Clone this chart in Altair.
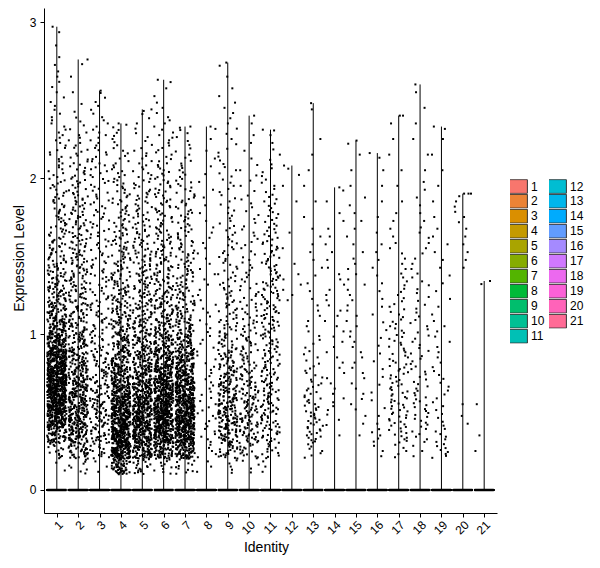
import math
import altair as alt
import pandas as pd

alt.data_transformers.disable_max_rows()

# ---------------- data ----------------
idents = [str(i) for i in range(1, 22)]

# top of each violin (= max expression in the cluster)
violin_max = [2.97, 2.76, 2.56, 2.35, 2.44, 2.63, 2.33, 2.33, 2.74, 2.40, 2.31,
              2.08, 2.48, 1.94, 2.24, 2.16, 2.40, 2.60, 2.33, 1.90, 1.34]

# cells with zero expression per cluster (drawn as the band at 0)
zero_counts = [80, 80, 80, 80, 80, 80, 80, 80, 80, 80, 80,
               80, 80, 80, 80, 80, 80, 80, 80, 80, 80]

# counts of non-zero cells per 0.1-wide expression bin (bin 0 = [0, 0.1))
bin_width = 0.1
counts_01 = [0, 2, 14, 55, 120, 150, 160, 150, 125, 90, 60, 42, 32, 26, 21, 18, 15, 13, 11, 10, 8, 7, 6, 5, 4, 3, 3, 2, 1, 1]
counts_02 = [0, 8, 36, 62, 70, 70, 62, 52, 42, 34, 29, 25, 22, 20, 19, 18, 16, 15, 14, 12, 10, 8, 6, 4, 2, 1, 1, 1]
counts_03 = [0, 3, 15, 24, 27, 27, 24, 20, 17, 14, 13, 12, 11, 10, 10, 9, 9, 9, 8, 8, 8, 7, 6, 5, 4, 2]
counts_04 = [0, 55, 130, 150, 135, 115, 90, 68, 52, 40, 33, 28, 24, 21, 18, 16, 14, 12, 11, 10, 8, 6, 5, 3]
counts_05 = [0, 18, 72, 100, 108, 98, 80, 62, 48, 38, 31, 26, 23, 20, 18, 16, 14, 12, 11, 10, 8, 6, 4, 3, 2]
counts_06 = [0, 10, 60, 115, 130, 125, 110, 90, 70, 52, 38, 30, 25, 22, 19, 17, 15, 13, 12, 11, 9, 7, 6, 5, 3, 2, 1]
counts_07 = [0, 12, 70, 120, 130, 120, 105, 85, 62, 44, 32, 24, 20, 17, 15, 13, 12, 11, 10, 9, 7, 5, 4, 2]
counts_08 = [0, 3, 5, 6, 6, 5, 5, 5, 4, 4, 4, 4, 3, 3, 3, 3, 3, 2, 2, 2, 2, 2, 1, 1]
counts_09 = [0, 5, 24, 40, 46, 44, 38, 30, 23, 18, 15, 12, 10, 9, 8, 8, 7, 6, 5, 5, 5, 4, 3, 3, 3, 2, 1, 1]
counts_10 = [0, 4, 16, 24, 26, 24, 21, 18, 15, 13, 11, 9, 8, 7, 6, 5, 5, 4, 4, 3, 3, 2, 2, 1]
counts_11 = [0, 3, 12, 18, 20, 20, 19, 18, 17, 16, 16, 16, 15, 14, 13, 11, 9, 8, 7, 5, 4, 3, 2, 1]
counts_12 = [0, 0, 0, 0, 0, 0, 0, 0, 0, 0, 0, 0, 3, 3, 1, 1, 1, 0, 1, 1, 2]
counts_13 = [0, 0, 7, 13, 13, 11, 9, 7, 5, 4, 3, 3, 2, 2, 2, 2, 2, 1, 1, 1, 1, 1, 1, 0, 1]
counts_14 = [0, 0, 0, 1, 3, 4, 3, 3, 3, 3, 3, 3, 3, 3, 2, 2, 2, 2, 1, 1]
counts_15 = [0, 0, 0, 1, 2, 3, 3, 3, 3, 3, 3, 3, 3, 3, 3, 2, 2, 2, 2, 1, 1, 1, 1]
counts_16 = [0, 0, 3, 5, 2, 2, 2, 2, 2, 2, 2, 2, 2, 2, 2, 2, 1, 1, 1, 1, 1, 1]
counts_17 = [0, 0, 5, 10, 12, 12, 11, 10, 9, 8, 7, 6, 5, 4, 3, 3, 2, 2, 1, 1, 1, 1, 1, 1, 1]
counts_18 = [0, 0, 3, 6, 8, 8, 7, 6, 6, 5, 5, 4, 4, 4, 3, 3, 3, 2, 2, 2, 1, 1, 1, 1, 1, 1]
counts_19 = [0, 0, 8, 6, 4, 4, 4, 4, 3, 3, 3, 2, 2, 2, 2, 2, 2, 1, 1, 1, 1, 1, 1, 1]
counts_20 = [0, 0, 0, 0, 2, 1, 0, 0, 0, 0, 0, 0, 0, 0, 2, 2, 2, 3, 3, 2]
counts_21 = [0, 0, 1, 1, 0, 1, 0, 0, 0, 0, 0, 0, 0, 1]

all_counts = [counts_01, counts_02, counts_03, counts_04, counts_05, counts_06, counts_07,
              counts_08, counts_09, counts_10, counts_11, counts_12, counts_13, counts_14,
              counts_15, counts_16, counts_17, counts_18, counts_19, counts_20, counts_21]


# ---------------- ggplot2 default hue palette (hcl, c=100, l=65) ----------------
def hcl_hex(h, c=100.0, l=65.0):
    hr = math.radians(h)
    U, V = c * math.cos(hr), c * math.sin(hr)
    Xn, Yn, Zn = 95.047, 100.0, 108.883
    Y = Yn * ((l + 16) / 116) ** 3 if l > 8 else Yn * l / 903.3
    t = Xn + 15 * Yn + 3 * Zn
    un, vn = 4 * Xn / t, 9 * Yn / t
    u, v = U / (13 * l) + un, V / (13 * l) + vn
    X = 9.0 * Y * u / (4 * v)
    Z = -X / 3 - 5 * Y + 3 * Y / v
    X, Y, Z = X / 100, Y / 100, Z / 100
    rgb = [3.240479 * X - 1.537150 * Y - 0.498535 * Z,
           -0.969256 * X + 1.875992 * Y + 0.041556 * Z,
           0.055648 * X - 0.204043 * Y + 1.057311 * Z]
    out = []
    for ch in rgb:
        ch = 12.92 * ch if ch <= 0.0031308 else 1.055 * ch ** (1 / 2.4) - 0.055
        out.append(int(round(min(max(ch, 0), 1) * 255)))
    return "#%02X%02X%02X" % tuple(out)


n = len(idents)
palette = [hcl_hex(15 + i * 360 / n) for i in range(n)]

# ---------------- expand bin counts into cells ----------------
rows = []
pid = 0
for ci, (ident, counts, vmax, nz) in enumerate(zip(idents, all_counts, violin_max, zero_counts)):
    cl = ci + 1
    for k in range(nz):
        rows.append({"cluster": cl, "ident": ident, "expr": 0.0, "pid": pid})
        pid += 1
    for b, c in enumerate(counts):
        lo = b * bin_width
        hi = min(lo + bin_width, vmax)
        for k in range(c):
            rows.append({"cluster": cl, "ident": ident,
                         "expr": lo + (k + 0.5) / c * (hi - lo), "pid": pid})
            pid += 1
    rows.append({"cluster": cl, "ident": ident, "expr": vmax, "pid": pid})
    pid += 1

points_df = pd.DataFrame(rows)
violin_df = pd.DataFrame({"cluster": list(range(1, n + 1)), "ident": idents,
                          "vmax": violin_max, "zero": [0.0] * n})

FONT = "Liberation Sans"

x_scale = alt.Scale(domain=[0.4, 21.6], nice=False, zero=False)
y_scale = alt.Scale(domain=[-0.1475, 3.09], nice=False, zero=False)

x_axis = alt.Axis(values=list(range(1, n + 1)), format="d",
                  labelAngle=315, labelAlign="right", labelBaseline="top",
                  labelOverlap=False, labelFlush=False, labelPadding=2,
                  labelFontSize=12, labelColor="black", labelFont=FONT,
                  tickSize=4, tickColor="black", domainColor="black", grid=False,
                  title="Identity", titleFontSize=14, titleFontWeight="normal",
                  titleColor="black", titleFont=FONT, titleX=222, titleY=34,
                  titleAlign="center", titleBaseline="middle")
y_axis = alt.Axis(values=[0, 1, 2, 3], format="d", labelPadding=4,
                  labelFontSize=12, labelColor="black", labelFont=FONT,
                  tickSize=4, tickColor="black", domainColor="black", grid=False,
                  title="Expression Level", titleFontSize=14, titleFontWeight="normal",
                  titleColor="black", titleFont=FONT, titleX=-25, titleY=250,
                  titleAngle=270, titleAlign="center", titleBaseline="middle")

base = alt.Chart(violin_df).transform_calculate(
    lo="datum.cluster - 0.45", hi="datum.cluster + 0.45"
).mark_rect(stroke="black", strokeWidth=2.5).encode(
    x=alt.X("lo:Q", scale=x_scale, axis=x_axis),
    x2="hi:Q",
    y=alt.Y("zero:Q", scale=y_scale, axis=y_axis),
    y2="zero:Q",
    fill=alt.Fill("ident:N", scale=alt.Scale(domain=idents, range=palette),
                  legend=alt.Legend(title=None, orient="none", legendX=466, legendY=171,
                                    columns=2, columnPadding=4, rowPadding=0, padding=0,
                                    clipHeight=14.4,
                                    symbolType="M-1.25,-0.92H1.25V0.92H-1.25Z", symbolSize=225,
                                    symbolStrokeColor="#333333", symbolStrokeWidth=1,
                                    symbolOpacity=1, labelOffset=5, labelFontSize=12,
                                    labelFont=FONT, labelColor="black")),
)

rules = alt.Chart(violin_df).mark_rule(color="black", strokeWidth=1).encode(
    x=alt.X("cluster:Q", scale=x_scale, axis=x_axis),
    y=alt.Y("zero:Q", scale=y_scale, axis=y_axis),
    y2="vmax:Q",
)

points = alt.Chart(points_df).transform_calculate(
    xj="datum.cluster + ((abs(sin(datum.pid * 12.9898 + datum.cluster * 78.233)) * 43758.5453) % 1 - 0.5) * 0.9"
).mark_square(size=4, color="black", opacity=1, strokeWidth=0).encode(
    x=alt.X("xj:Q", scale=x_scale, axis=x_axis),
    y=alt.Y("expr:Q", scale=y_scale, axis=y_axis),
)

chart = alt.layer(base, rules, points).properties(
    width=453, height=505,
    padding={"left": 36, "top": 0, "right": 94, "bottom": 45},
    autosize=alt.AutoSizeParams(type="none"),
    background="white",
).configure_view(strokeWidth=0)

chart.save("out.html", embed_options={"renderer": "svg", "actions": False})
